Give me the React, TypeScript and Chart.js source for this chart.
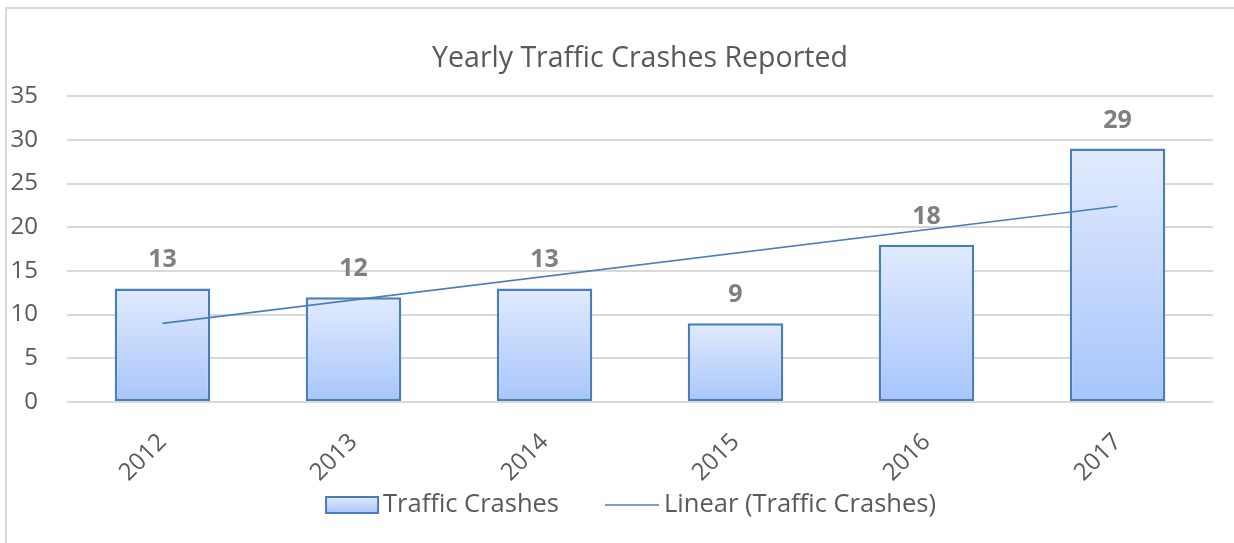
import React, { useEffect, useRef } from "react";
import { Chart, registerables } from "chart.js";

Chart.register(...registerables);

const years = ["2012", "2013", "2014", "2015", "2016", "2017"];
const crashes = [13, 12, 13, 9, 18, 29];
// Linear trendline endpoints (2012 and 2017)
const trend = [9.0, null, null, null, null, 22.4];
const titleText = "Yearly Traffic Crashes Reported";
const barLabel = "Traffic Crashes";
const trendLabel = "Linear (Traffic Crashes)";

const FONT = '"Open Sans", "Noto Sans", sans-serif';
const GRAY = "#595959";
const BLUE = "#4a7ebb";
const GRAD_TOP = "#e1ebfd";
const GRAD_BOTTOM = "#a7c5fb";

const framePlugin = {
  id: "frame",
  beforeDraw(chart: any) {
    const ctx = chart.ctx;
    ctx.save();
    ctx.fillStyle = "#ffffff";
    ctx.fillRect(0, 0, chart.width, chart.height);
    ctx.strokeStyle = "#d9d9d9";
    ctx.lineWidth = 2;
    ctx.beginPath();
    ctx.moveTo(6, chart.height);
    ctx.lineTo(6, 8);
    ctx.lineTo(chart.width, 8);
    ctx.stroke();
    ctx.restore();
  },
};

const dataLabelPlugin = {
  id: "dataLabels",
  afterDatasetsDraw(chart: any) {
    const meta = chart.getDatasetMeta(0);
    const ctx = chart.ctx;
    ctx.save();
    ctx.font = `bold 25px ${FONT}`;
    ctx.fillStyle = "#7f7f7f";
    ctx.textAlign = "center";
    ctx.textBaseline = "alphabetic";
    meta.data.forEach((el: any, i: number) => {
      ctx.fillText(String(crashes[i]), el.x, el.y - 21);
    });
    ctx.restore();
  },
};

// Excel-style legend: swatch close to its text
const legendPlugin = {
  id: "excelLegend",
  afterDraw(chart: any) {
    const ctx = chart.ctx;
    const area = chart.chartArea;
    ctx.save();
    ctx.font = `25.5px ${FONT}`;
    ctx.textBaseline = "middle";
    ctx.textAlign = "left";
    const rectW = 52;
    const rectH = 16;
    const lineW = 54;
    const swGap = 5;
    const itemGap = 46;
    const w1 = ctx.measureText(barLabel).width;
    const w2 = ctx.measureText(trendLabel).width;
    const total = rectW + swGap + w1 + itemGap + lineW + swGap + w2;
    const cx = (area.left + area.right) / 2 - 9;
    const cy = chart.height - 38;
    let x = cx - total / 2;
    const g = ctx.createLinearGradient(0, cy - rectH / 2, 0, cy + rectH / 2);
    g.addColorStop(0, GRAD_TOP);
    g.addColorStop(1, GRAD_BOTTOM);
    ctx.fillStyle = g;
    ctx.fillRect(x, cy - rectH / 2, rectW, rectH);
    ctx.strokeStyle = BLUE;
    ctx.lineWidth = 2;
    ctx.strokeRect(x, cy - rectH / 2, rectW, rectH);
    x += rectW + swGap;
    ctx.fillStyle = GRAY;
    ctx.fillText(barLabel, x, cy);
    x += w1 + itemGap;
    ctx.strokeStyle = BLUE;
    ctx.lineWidth = 1.6;
    ctx.beginPath();
    ctx.moveTo(x, cy);
    ctx.lineTo(x + lineW, cy);
    ctx.stroke();
    x += lineW + swGap;
    ctx.fillStyle = GRAY;
    ctx.fillText(trendLabel, x, cy);
    ctx.restore();
  },
};

function barGradient(c: any) {
  const chart = c.chart;
  const scales = chart.scales;
  if (c.type !== "data" || !scales || !scales.y) return "#c6d9fc";
  const top = scales.y.getPixelForValue(c.raw);
  const bottom = scales.y.getPixelForValue(0);
  if (!isFinite(top) || !isFinite(bottom) || top === bottom) return "#c6d9fc";
  const g = chart.ctx.createLinearGradient(0, top, 0, bottom);
  g.addColorStop(0, GRAD_TOP);
  g.addColorStop(1, GRAD_BOTTOM);
  return g;
}

export default function App() {
  const ref = useRef<HTMLCanvasElement | null>(null);
  useEffect(() => {
    if (!ref.current) return;
    const chart = new Chart(ref.current, {
      type: "bar",
      data: {
        labels: years,
        datasets: [
          {
            type: "bar",
            label: barLabel,
            data: crashes,
            backgroundColor: barGradient,
            borderColor: BLUE,
            borderWidth: 2.5,
            borderSkipped: false,
            categoryPercentage: 1,
            barPercentage: 0.5,
            order: 1,
          },
          {
            type: "line",
            label: trendLabel,
            data: trend as any,
            borderColor: BLUE,
            backgroundColor: BLUE,
            borderWidth: 1.6,
            pointRadius: 0,
            spanGaps: true,
            fill: false,
            order: 0,
          },
        ],
      },
      options: {
        responsive: false,
        animation: false,
        layout: { padding: { left: 0, right: 21, top: 0, bottom: 53 } },
        plugins: {
          title: {
            display: true,
            text: titleText,
            fullSize: false,
            color: GRAY,
            font: { family: FONT, size: 28.5, weight: "normal" },
            padding: { top: 42, bottom: 20 },
          },
          legend: { display: false },
          tooltip: { enabled: false },
        },
        scales: {
          x: {
            grid: { display: false, drawTicks: false },
            border: { display: false },
            ticks: {
              color: GRAY,
              font: { family: FONT, size: 24 },
              maxRotation: 45,
              minRotation: 45,
              padding: 26,
            },
            afterFit: (s: any) => {
              s.height = 88;
            },
          },
          y: {
            min: 0,
            max: 35,
            grid: { color: "#d9d9d9", lineWidth: 2, drawTicks: false },
            border: { display: false },
            ticks: {
              stepSize: 5,
              color: GRAY,
              font: { family: FONT, size: 24 },
              padding: 29,
            },
            afterFit: (s: any) => {
              s.width = 67;
            },
          },
        },
      },
      plugins: [framePlugin, dataLabelPlugin, legendPlugin],
    });
    return () => chart.destroy();
  }, []);
  return (
    <div style={{ position: "absolute", left: 0, top: 0, width: 1234, height: 543 }}>
      <canvas ref={ref} width={1234} height={543} style={{ display: "block" }} />
    </div>
  );
}
